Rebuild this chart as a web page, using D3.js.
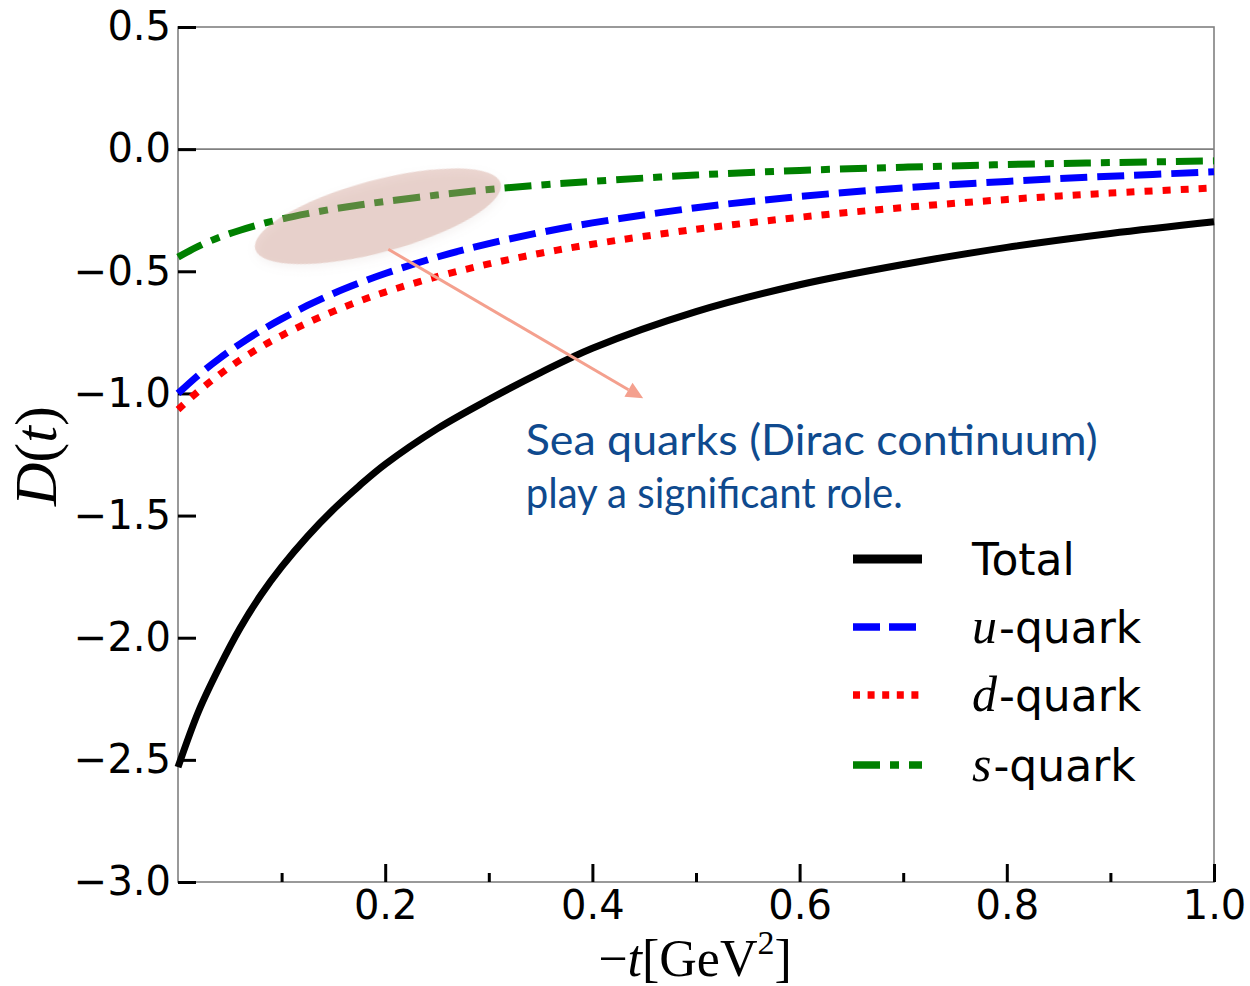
<!DOCTYPE html>
<html>
<head>
<meta charset="utf-8">
<script src="https://cdn.jsdelivr.net/npm/d3@7"></script>
<style>
  body { margin: 0; background: #fff; }
  svg { display: block; }
</style>
</head>
<body>
<svg id="chart"></svg>
<script>
const t_values = [0, 0.02, 0.04, 0.06, 0.08, 0.10, 0.125, 0.15, 0.175, 0.2, 0.25, 0.3, 0.35, 0.4, 0.5, 0.6, 0.7, 0.8, 0.9, 1.0]
const total_values = [-2.53, -2.30, -2.12, -1.96, -1.825, -1.71, -1.585, -1.475, -1.378, -1.29, -1.145, -1.025, -0.915, -0.815, -0.665, -0.555, -0.472, -0.402, -0.345, -0.297]
const u_values = [-1.000, -0.924, -0.857, -0.797, -0.743, -0.695, -0.640, -0.591, -0.548, -0.509, -0.442, -0.387, -0.341, -0.302, -0.240, -0.194, -0.159, -0.132, -0.111, -0.093]
const d_values = [-1.066, -0.990, -0.923, -0.863, -0.810, -0.763, -0.711, -0.664, -0.622, -0.585, -0.522, -0.470, -0.426, -0.389, -0.328, -0.279, -0.239, -0.206, -0.180, -0.159]
const s_values = [-0.442, -0.397, -0.361, -0.332, -0.307, -0.286, -0.264, -0.245, -0.229, -0.214, -0.188, -0.165, -0.147, -0.132, -0.106, -0.087, -0.074, -0.063, -0.055, -0.048]

const x_ticks = [0.2, 0.4, 0.6, 0.8, 1.0]
const x_minor_ticks = [0.1, 0.3, 0.5, 0.7, 0.9]
const y_ticks = [0.5, 0.0, -0.5, -1.0, -1.5, -2.0, -2.5, -3.0]

const series_names = ["Total", "u", "d", "s"]
const annotation_lines = ["Sea quarks (Dirac continuum)", "play a significant role."]

const chart_w = 1250
const chart_h = 986
const plot_left = 178, plot_right = 1214, plot_top = 27, plot_bottom = 882

const svg = d3.select("#chart")
    .attr("width", chart_w)
    .attr("height", chart_h)

const x = d3.scaleLinear().domain([0, 1]).range([plot_left, plot_right])
const y = d3.scaleLinear().domain([-3, 0.5]).range([plot_bottom, plot_top])

const defs = svg.append("defs")
const shadow = defs.append("filter")
    .attr("id", "soft-shadow")
    .attr("x", "-20%").attr("y", "-40%")
    .attr("width", "140%").attr("height", "180%")
shadow.append("feDropShadow")
    .attr("dx", 0)
    .attr("dy", 4)
    .attr("stdDeviation", 4)
    .attr("flood-color", "#a08a86")
    .attr("flood-opacity", 0.25)

// frame + zero line
svg.append("rect")
    .attr("x", plot_left)
    .attr("y", plot_top)
    .attr("width", plot_right - plot_left)
    .attr("height", plot_bottom - plot_top)
    .attr("fill", "none")
    .attr("stroke", "#808080")
    .attr("stroke-width", 1.6)

svg.append("line")
    .attr("x1", plot_left)
    .attr("x2", plot_right)
    .attr("y1", y(0))
    .attr("y2", y(0))
    .attr("stroke", "#808080")
    .attr("stroke-width", 1.6)

// axes
const y_axis = svg.append("g")
    .attr("transform", `translate(${plot_left},0)`)
    .call(d3.axisLeft(y).tickValues(y_ticks).tickSize(-18).tickPadding(7).tickFormat(d3.format(".1f")))
const x_axis = svg.append("g")
    .attr("transform", `translate(0,${plot_bottom})`)
    .call(d3.axisBottom(x).tickValues(x_ticks).tickSize(-18).tickPadding(9).tickFormat(d3.format(".1f")))
const x_minor = svg.append("g")
    .attr("transform", `translate(0,${plot_bottom})`)
    .call(d3.axisBottom(x).tickValues(x_minor_ticks).tickSize(-9).tickFormat(""))

for (const g of [y_axis, x_axis, x_minor]) {
    g.select(".domain").remove()
    g.selectAll(".tick line")
        .attr("stroke", "black")
        .attr("stroke-width", 3)
    g.selectAll(".tick text")
        .attr("fill", "black")
        .attr("font-family", "DejaVu Sans")
        .attr("font-size", 40)
}

// curves
const line = d3.line()
    .x((d, i) => x(t_values[i]))
    .y(d => y(d))
    .curve(d3.curveCatmullRom.alpha(0.5))

const curve_styles = [
    {values: total_values, color: "black", width: 7, dash: null},
    {values: u_values, color: "#0000ff", width: 7, dash: "27,10"},
    {values: d_values, color: "#ff0000", width: 7, dash: "8,10"},
    {values: s_values, color: "#008000", width: 7, dash: "27,10,9,10"}
]

for (const c of curve_styles) {
    svg.append("path")
        .datum(c.values)
        .attr("d", line)
        .attr("fill", "none")
        .attr("stroke", c.color)
        .attr("stroke-width", c.width)
        .attr("stroke-dasharray", c.dash)
}

// highlight ellipse over the s-quark curve
const ell_cx = x(0.193), ell_cy = y(-0.275)
svg.append("ellipse")
    .attr("cx", ell_cx)
    .attr("cy", ell_cy)
    .attr("rx", 127)
    .attr("ry", 36)
    .attr("transform", `rotate(-15 ${ell_cx} ${ell_cy})`)
    .attr("fill", "rgba(205,150,138,0.38)")
    .attr("filter", "url(#soft-shadow)")

// arrow to the note
const ax1 = x(0.203), ay1 = y(-0.41)
const ax2 = x(0.449), ay2 = y(-1.02)
const ang = Math.atan2(ay2 - ay1, ax2 - ax1)
const head_len = 17, head_w = 8
svg.append("line")
    .attr("x1", ax1)
    .attr("y1", ay1)
    .attr("x2", ax2 - head_len * Math.cos(ang))
    .attr("y2", ay2 - head_len * Math.sin(ang))
    .attr("stroke", "#f4a08e")
    .attr("stroke-width", 3)
svg.append("polygon")
    .attr("points", [
        [ax2, ay2],
        [ax2 - head_len * Math.cos(ang) + head_w * Math.sin(ang), ay2 - head_len * Math.sin(ang) - head_w * Math.cos(ang)],
        [ax2 - head_len * Math.cos(ang) - head_w * Math.sin(ang), ay2 - head_len * Math.sin(ang) + head_w * Math.cos(ang)]
    ].map(p => p.join(",")).join(" "))
    .attr("fill", "#f4a08e")

const note_widths = [572, 377]
annotation_lines.forEach((txt, i) => {
    svg.append("text")
        .text(txt)
        .attr("x", x(0.3356))
        .attr("y", y(-1.252) + i * 53)
        .attr("font-family", "Lato")
        .attr("font-size", 43)
        .attr("fill", "#0f4a8e")
        .attr("textLength", note_widths[i])
        .attr("lengthAdjust", "spacingAndGlyphs")
})

// legend
const legend_x1 = 853, legend_x2 = 922, text_x = 972
const legend_rows = [559, 627, 695, 765]
const legend_dash = [null, "27,9", "7,7.6", "27,10,9,10"]
series_names.forEach((name, i) => {
    const c = curve_styles[i]
    svg.append("line")
        .attr("x1", legend_x1)
        .attr("x2", legend_x2)
        .attr("y1", legend_rows[i])
        .attr("y2", legend_rows[i])
        .attr("stroke", c.color)
        .attr("stroke-width", i == 0 ? 9 : 7.5)
        .attr("stroke-dasharray", legend_dash[i])

    const t = svg.append("text")
        .attr("x", text_x)
        .attr("y", legend_rows[i] + 16)
        .attr("font-family", "DejaVu Sans")
        .attr("font-size", 44)
        .attr("fill", "black")
    if (i == 0) {
        t.text(name)
    } else {
        t.append("tspan")
            .text(name)
            .attr("font-family", "Liberation Serif")
            .attr("font-style", "italic")
            .attr("font-size", 50)
        t.append("tspan").text("-quark").attr("dx", 2)
    }
})

// axis labels
const ylab = svg.append("text")
    .attr("transform", "translate(56,456) rotate(-90)")
    .attr("text-anchor", "middle")
    .attr("font-family", "Liberation Serif")
    .attr("font-size", 60)
    .attr("fill", "black")
ylab.append("tspan").text("D").attr("font-style", "italic")
ylab.append("tspan").text("(")
ylab.append("tspan").text("t").attr("font-style", "italic")
ylab.append("tspan").text(")")

const xlab = svg.append("text")
    .attr("x", 695)
    .attr("y", 976)
    .attr("text-anchor", "middle")
    .attr("font-family", "Liberation Serif")
    .attr("font-size", 52)
    .attr("fill", "black")
xlab.append("tspan").text("\u2212")
xlab.append("tspan").text("t").attr("font-style", "italic")
xlab.append("tspan").text("[GeV")
xlab.append("tspan").text("2").attr("font-size", 34).attr("dy", -22)
xlab.append("tspan").text("]").attr("dy", 22)
</script>
</body>
</html>
